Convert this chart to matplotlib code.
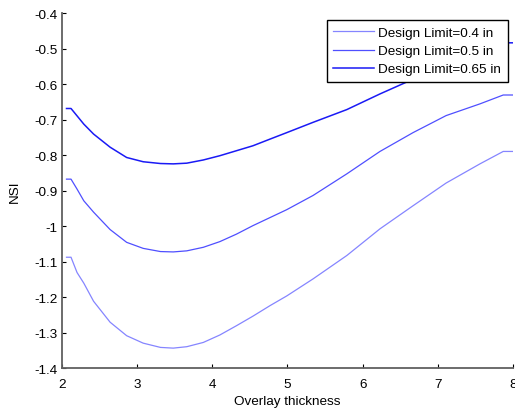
import matplotlib
matplotlib.use("Agg")
import matplotlib.pyplot as plt

plt.rcParams['font.family'] = ['Liberation Sans', 'DejaVu Sans']

x_04 = [2.06, 2.12, 2.20, 2.29, 2.42, 2.64, 2.86, 3.08, 3.31, 3.48, 3.66, 3.88, 4.10, 4.32,
        4.54, 4.77, 4.99, 5.34, 5.79, 6.23, 6.67, 7.11, 7.56, 7.87, 8.0]
y_04 = [-1.088, -1.088, -1.131, -1.161, -1.212, -1.271, -1.309, -1.330, -1.342, -1.344,
        -1.340, -1.328, -1.307, -1.281, -1.254, -1.224, -1.197, -1.149, -1.083, -1.008,
        -0.943, -0.879, -0.825, -0.790, -0.790]

x_05 = [2.06, 2.12, 2.20, 2.29, 2.42, 2.64, 2.86, 3.08, 3.31, 3.48, 3.66, 3.88, 4.10, 4.32,
        4.54, 4.77, 4.99, 5.34, 5.79, 6.23, 6.67, 7.11, 7.56, 7.87, 8.0]
y_05 = [-0.868, -0.868, -0.896, -0.929, -0.961, -1.010, -1.046, -1.063, -1.072, -1.073,
        -1.070, -1.060, -1.044, -1.023, -0.999, -0.976, -0.954, -0.914, -0.853, -0.790,
        -0.737, -0.689, -0.656, -0.631, -0.631]

x_065 = [2.06, 2.12, 2.29, 2.42, 2.64, 2.86, 3.08, 3.31, 3.48, 3.66, 3.88, 4.10, 4.32,
         4.54, 4.77, 4.99, 5.34, 5.79, 6.23, 6.58, 7.22, 7.87, 8.0]
y_065 = [-0.669, -0.669, -0.713, -0.741, -0.778, -0.807, -0.819, -0.824, -0.825, -0.823,
         -0.814, -0.802, -0.788, -0.774, -0.755, -0.737, -0.708, -0.672, -0.628, -0.595,
         -0.540, -0.484, -0.484]

labels = ['Design Limit=0.4 in', 'Design Limit=0.5 in', 'Design Limit=0.65 in']
xticks = [2, 3, 4, 5, 6, 7, 8]
yticks = [-1.4, -1.3, -1.2, -1.1, -1.0, -0.9, -0.8, -0.7, -0.6, -0.5, -0.4]
ytick_labels = ['-1.4', '-1.3', '-1.2', '-1.1', '-1', '-0.9', '-0.8', '-0.7', '-0.6', '-0.5', '-0.4']

FS = 9.7
fig = plt.figure(figsize=(5.15, 4.10), dpi=100)
ax = fig.add_axes([62 / 515, 1 - 369 / 410, 451 / 515, 355 / 410])

ax.plot(x_04, y_04, color='#8585ff', lw=0.9, label=labels[0])
ax.plot(x_05, y_05, color='#4f4fff', lw=0.9, label=labels[1])
ax.plot(x_065, y_065, color='#1a1af5', lw=1.1, label=labels[2])

ax.set_xlim(2, 8)
ax.set_ylim(-1.4, -0.4)
ax.set_xticks(xticks)
ax.set_xticklabels([str(t) for t in xticks])
ax.set_yticks(yticks)
ax.set_yticklabels(ytick_labels)
ax.tick_params(direction='in', length=3, width=0.8, labelsize=FS, color='black')
ax.tick_params(axis='x', pad=7)
ax.tick_params(axis='y', pad=3)
for s in ['top', 'right']:
    ax.spines[s].set_visible(False)
for s in ['left', 'bottom']:
    ax.spines[s].set_color('#606060')
    ax.spines[s].set_linewidth(1.3)

ax.set_xlabel('Overlay thickness', fontsize=FS, labelpad=4)
ax.set_ylabel('NSI', fontsize=FS, labelpad=10)

leg = ax.legend(loc='upper right', bbox_to_anchor=(446 / 451, 1.0 - 7 / 355), fontsize=FS,
                frameon=True, fancybox=False, edgecolor='black', handlelength=3.0,
                borderaxespad=0, labelspacing=0.42, borderpad=0.5, handletextpad=0.35,
                framealpha=1.0)
leg.get_frame().set_linewidth(1.0)

fig.savefig('out.png', dpi=100)
